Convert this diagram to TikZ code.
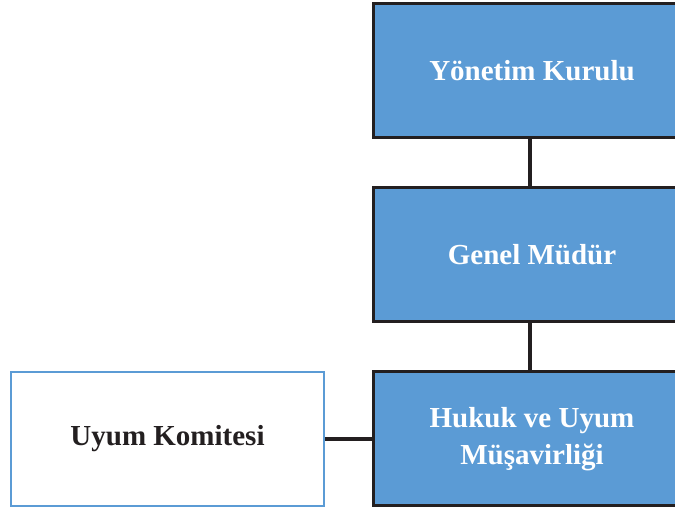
\documentclass[tikz,border=0pt]{standalone}
\usepackage{fontspec}
\setmainfont{Liberation Serif}
\definecolor{boxblue}{HTML}{5B9BD5}
\definecolor{ink}{HTML}{231F20}
\begin{document}
\begin{tikzpicture}[x=1pt,y=1pt,
  bluebox/.style={draw=ink, line width=3pt, fill=boxblue, minimum width=318pt, minimum height=134pt,
    inner sep=0pt, text=white, font=\fontsize{29}{37}\selectfont\bfseries, align=center},
  whitebox/.style={draw=boxblue, line width=2pt, fill=white, minimum width=313pt, minimum height=134pt,
    inner sep=0pt, text=ink, font=\fontsize{29}{37}\selectfont\bfseries, align=center},
  link/.style={draw=ink, line width=3.5pt}]
\useasboundingbox (0,0) rectangle (675,508);
\node[bluebox] (yk) at (532,437) {Yönetim Kurulu};
\node[bluebox] (gm) at (532,253.5) {Genel Müdür};
\node[bluebox] (hu) at (532,69) {Hukuk ve Uyum\\Müşavirliği};
\node[whitebox] (uk) at (167.5,69) {Uyum Komitesi};
\draw[link] (yk.south -| 530,0) -- (gm.north -| 530,0);
\draw[link] (gm.south -| 530,0) -- (hu.north -| 530,0);
\draw[link] (uk.east) -- (hu.west);
\end{tikzpicture}
\end{document}
